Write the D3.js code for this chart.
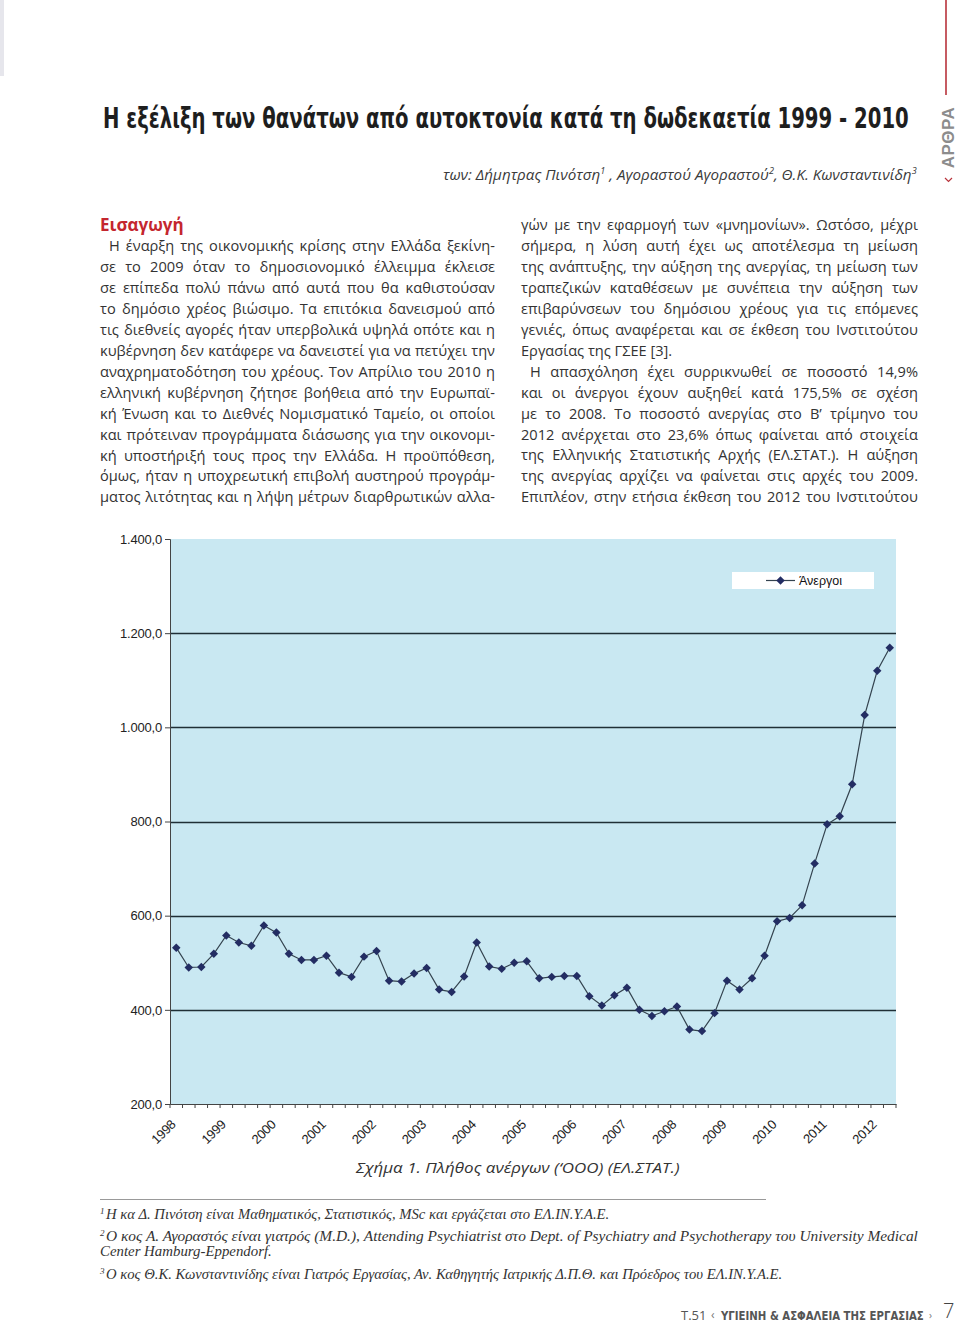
<!DOCTYPE html>
<html>
<head>
<meta charset="utf-8">
<script src="https://cdn.jsdelivr.net/npm/d3@7/dist/d3.min.js"></script>
<style>
  html, body { margin: 0; padding: 0; background: #fff; }
  svg { display: block; }
</style>
</head>
<body>
<svg id="page" width="960" height="1325"></svg>
<script>
// ---------------- DATA ----------------
const quarters = [
  "1998Q1","1998Q2","1998Q3","1998Q4","1999Q1","1999Q2","1999Q3","1999Q4",
  "2000Q1","2000Q2","2000Q3","2000Q4","2001Q1","2001Q2","2001Q3","2001Q4",
  "2002Q1","2002Q2","2002Q3","2002Q4","2003Q1","2003Q2","2003Q3","2003Q4",
  "2004Q1","2004Q2","2004Q3","2004Q4","2005Q1","2005Q2","2005Q3","2005Q4",
  "2006Q1","2006Q2","2006Q3","2006Q4","2007Q1","2007Q2","2007Q3","2007Q4",
  "2008Q1","2008Q2","2008Q3","2008Q4","2009Q1","2009Q2","2009Q3","2009Q4",
  "2010Q1","2010Q2","2010Q3","2010Q4","2011Q1","2011Q2","2011Q3","2011Q4",
  "2012Q1","2012Q2"
];
const unemployed = [
  532, 490, 491, 519, 558, 543, 536, 579, 564, 519,
  506, 506, 515, 479, 470, 513, 525, 462, 460, 477,
  489, 443, 438, 471, 543, 492, 487, 500, 503, 467,
  470, 472, 472, 429, 409, 431, 447, 400, 387, 397,
  407, 358, 355, 393, 462, 443, 467, 515, 588, 595,
  622, 711, 794, 811, 879, 1026, 1120, 1169
];
const yearLabels = ["1998","1999","2000","2001","2002","2003","2004","2005",
                    "2006","2007","2008","2009","2010","2011","2012"];
const yTicks = [200, 400, 600, 800, 1000, 1200, 1400];
const seriesName = "Άνεργοι";

const titleText = "Η εξέλιξη των θανάτων από αυτοκτονία κατά τη δωδεκαετία 1999 - 2010";
const leftLines = [
  "Η έναρξη της οικονομικής κρίσης στην Ελλάδα ξεκίνη-",
  "σε το 2009 όταν το δημοσιονομικό έλλειμμα έκλεισε",
  "σε επίπεδα πολύ πάνω από αυτά που θα καθιστούσαν",
  "το δημόσιο χρέος βιώσιμο. Τα επιτόκια δανεισμού από",
  "τις διεθνείς αγορές ήταν υπερβολικά υψηλά οπότε και η",
  "κυβέρνηση δεν κατάφερε να δανειστεί για να πετύχει την",
  "αναχρηματοδότηση του χρέους. Τον Απρίλιο του 2010 η",
  "ελληνική κυβέρνηση ζήτησε βοήθεια από την Ευρωπαϊ-",
  "κή Ένωση και το Διεθνές Νομισματικό Ταμείο, οι οποίοι",
  "και πρότειναν προγράμματα διάσωσης για την οικονομι-",
  "κή υποστήριξή τους προς την Ελλάδα. Η προϋπόθεση,",
  "όμως, ήταν η υποχρεωτική επιβολή αυστηρού προγράμ-",
  "ματος λιτότητας και η λήψη μέτρων διαρθρωτικών αλλα-"
];
const rightLines = [
  "γών με την εφαρμογή των «μνημονίων». Ωστόσο, μέχρι",
  "σήμερα, η λύση αυτή έχει ως αποτέλεσμα τη μείωση",
  "της ανάπτυξης, την αύξηση της ανεργίας, τη μείωση των",
  "τραπεζικών καταθέσεων με συνέπεια την αύξηση των",
  "επιβαρύνσεων του δημόσιου χρέους για τις επόμενες",
  "γενιές, όπως αναφέρεται και σε έκθεση του Ινστιτούτου",
  "Εργασίας της ΓΣΕΕ [3].",
  "Η απασχόληση έχει συρρικνωθεί σε ποσοστό 14,9%",
  "και οι άνεργοι έχουν αυξηθεί κατά 175,5% σε σχέση",
  "με το 2008. Το ποσοστό ανεργίας στο Β’ τρίμηνο του",
  "2012 ανέρχεται στο 23,6% όπως φαίνεται από στοιχεία",
  "της Ελληνικής Στατιστικής Αρχής (ΕΛ.ΣΤΑΤ.). Η αύξηση",
  "της ανεργίας αρχίζει να φαίνεται στις αρχές του 2009.",
  "Επιπλέον, στην ετήσια έκθεση του 2012 του Ινστιτούτου"
];

// ---------------- PAGE ----------------
const svg = d3.select("#page");
const sansBody = "'Open Sans', 'Noto Sans', 'DejaVu Sans', sans-serif";
const serif = "'Liberation Serif', 'DejaVu Serif', serif";
const narrow = "'Liberation Sans Narrow', 'DejaVu Sans Condensed', 'Roboto', sans-serif";
const arial = "'Liberation Sans', Arial, sans-serif";

// horizontally scale a text (placed at x0,y0) so that it is exactly w wide
function scaleTo(sel, x0, y0, w) {
  sel.attr("x", 0).attr("y", 0);
  const nat = sel.node().getComputedTextLength();
  const s = nat > 0 ? w / nat : 1;
  sel.attr("transform", `translate(${x0},${y0}) scale(${s.toFixed(4)},1)`);
  return sel;
}
function justify(sel, w) {
  const nat = sel.node().getComputedTextLength();
  const spaces = (sel.text().match(/ /g) || []).length;
  if (nat > w) {
    const x0 = +sel.attr("x"), y0 = +sel.attr("y");
    scaleTo(sel, x0, y0, w);
    return;
  }
  if (spaces > 0) sel.attr("word-spacing", ((w - nat) / spaces).toFixed(2));
}

// top-left faint strip
svg.append("rect").attr("x", 0).attr("y", 0).attr("width", 4).attr("height", 76).attr("fill", "#e6e6ec");

// right side tab
svg.append("line").attr("x1", 946).attr("x2", 946).attr("y1", 0).attr("y2", 95)
  .attr("stroke", "#b8333b").attr("stroke-width", 1.6);
svg.append("text").attr("transform", "translate(954,137.5) rotate(-90)")
  .attr("text-anchor", "middle").attr("font-family", arial).attr("font-weight", "bold")
  .attr("font-size", 17).attr("fill", "#8c8c8c").attr("letter-spacing", 0.5).text("ΑΡΘΡΑ");
svg.append("polyline").attr("points", "945,178 948.5,181.5 952,178")
  .attr("fill", "none").attr("stroke", "#b8333b").attr("stroke-width", 1.2);

// title
scaleTo(svg.append("text")
  .attr("font-family", narrow).attr("font-weight", "bold").attr("font-size", 28)
  .attr("fill", "#1e1e1e").text(titleText), 103, 128, 806);

// authors
const au = svg.append("text")
  .attr("font-family", sansBody).attr("font-style", "italic").attr("font-size", 15).attr("fill", "#3a3a3a");
au.append("tspan").text("των: Δήμητρας Πινότση");
au.append("tspan").attr("font-size", 9).attr("dy", -6).text("1");
au.append("tspan").attr("dy", 6).text(" , Αγοραστού Αγοραστού");
au.append("tspan").attr("font-size", 9).attr("dy", -6).text("2");
au.append("tspan").attr("dy", 6).text(", Θ.Κ. Κωνσταντινίδη");
au.append("tspan").attr("font-size", 9).attr("dy", -6).text("3");
scaleTo(au, 443, 180, 474);

// section heading
svg.append("text").attr("x", 100).attr("y", 231).attr("font-family", sansBody)
  .attr("font-weight", "bold").attr("font-size", 17).attr("fill", "#c4262e").text("Εισαγωγή");

// body columns
const lineH = 20.95;
leftLines.forEach((t, i) => {
  const x0 = i === 0 ? 109 : 100;
  const s = svg.append("text").attr("x", x0).attr("y", 251 + i * lineH)
    .attr("font-family", sansBody).attr("font-size", 14.6).attr("fill", "#333").text(t);
  justify(s, 495 - x0);
});
rightLines.forEach((t, i) => {
  const x0 = i === 7 ? 530 : 521;
  const s = svg.append("text").attr("x", x0).attr("y", 230 + i * lineH)
    .attr("font-family", sansBody).attr("font-size", 14.6).attr("fill", "#333").text(t);
  if (i !== 6) justify(s, 918 - x0);
});

// ---------------- CHART ----------------
const plot = { left: 170, right: 896, top: 539, bottom: 1104 };
const x = d3.scaleBand().domain(quarters).range([plot.left, plot.right]).paddingInner(0).paddingOuter(0);
const y = d3.scaleLinear().domain([200, 1400]).range([plot.bottom, plot.top]);
const cx = q => x(q) + x.bandwidth() / 2;
const grLocale = d3.formatLocale({ decimal: ",", thousands: ".", grouping: [3], currency: ["", "€"] });
const fmt = grLocale.format(",.1f");

const g = svg.append("g");
g.append("rect").attr("x", plot.left).attr("y", plot.top)
  .attr("width", plot.right - plot.left).attr("height", plot.bottom - plot.top).attr("fill", "#c9e8f2");

// gridlines
g.append("g").selectAll("line").data(yTicks.filter(v => v > 200 && v < 1400)).join("line")
  .attr("x1", plot.left).attr("x2", plot.right)
  .attr("y1", d => Math.round(y(d)) + 0.5).attr("y2", d => Math.round(y(d)) + 0.5)
  .attr("stroke", "#1f2f36").attr("stroke-width", 1.3);

// y axis
const yAxis = g.append("g").attr("transform", `translate(${plot.left},0)`)
  .call(d3.axisLeft(y).tickValues(yTicks).tickFormat(fmt).tickSize(5).tickPadding(3));
yAxis.select(".domain").attr("stroke", "#444");
yAxis.selectAll(".tick line").attr("stroke", "#444");
yAxis.selectAll("text").attr("font-family", arial).attr("font-size", 13).attr("fill", "#222")
  .attr("letter-spacing", -0.2);

// x axis
const xAxis = g.append("g").attr("transform", `translate(0,${plot.bottom})`)
  .call(d3.axisBottom(x).tickValues([]).tickSizeOuter(0));
xAxis.select(".domain").attr("stroke", "#444");
xAxis.append("g").selectAll("line").data(quarters.concat(["end"])).join("line")
  .attr("x1", (d, i) => plot.left + i * x.bandwidth()).attr("x2", (d, i) => plot.left + i * x.bandwidth())
  .attr("y1", 0).attr("y2", 4).attr("stroke", "#444");
xAxis.append("g").selectAll("text").data(yearLabels).join("text")
  .attr("transform", d => `translate(${cx(d + "Q1") - 3},${18}) rotate(-45)`)
  .attr("text-anchor", "end").attr("font-family", arial).attr("font-size", 13).attr("fill", "#222")
  .attr("letter-spacing", -0.3).attr("dy", "0.35em").text(d => d);

// line + markers
const data = quarters.map((q, i) => ({ q, v: unemployed[i] }));
g.append("path").datum(data)
  .attr("d", d3.line().x(d => cx(d.q)).y(d => y(d.v)))
  .attr("fill", "none").attr("stroke", "#34434f").attr("stroke-width", 1.2);
const diamond = d3.symbol().type(d3.symbolSquare).size(36);
g.append("g").selectAll("path").data(data).join("path")
  .attr("transform", d => `translate(${cx(d.q)},${y(d.v)}) rotate(45)`)
  .attr("d", diamond).attr("fill", "#232d63");

// legend
const lg = g.append("g");
lg.append("rect").attr("x", 732).attr("y", 572).attr("width", 142).attr("height", 17).attr("fill", "#fff");
lg.append("line").attr("x1", 766).attr("x2", 795).attr("y1", 580.5).attr("y2", 580.5)
  .attr("stroke", "#34434f").attr("stroke-width", 1.2);
lg.append("path").attr("transform", "translate(780.5,580.5) rotate(45)").attr("d", diamond).attr("fill", "#232d63");
lg.append("text").attr("x", 799).attr("y", 585).attr("font-family", arial).attr("font-size", 12.5)
  .attr("fill", "#111").text(seriesName);

// caption
scaleTo(svg.append("text").attr("font-family", sansBody)
  .attr("font-style", "italic").attr("font-size", 15).attr("fill", "#333")
  .text("Σχήμα 1. Πλήθος ανέργων (‘ΟΟΟ) (ΕΛ.ΣΤΑΤ.)"), 356, 1173, 324);

// footnotes
svg.append("line").attr("x1", 100).attr("x2", 766).attr("y1", 1199.5).attr("y2", 1199.5)
  .attr("stroke", "#999").attr("stroke-width", 1);
const fns = [
  { n: "1", t: "Η κα Δ. Πινότση είναι Μαθηματικός, Στατιστικός, MSc και εργάζεται στο ΕΛ.ΙΝ.Υ.Α.Ε.", y: 1219, w: 510 },
  { n: "2", t: "Ο κος Α. Αγοραστός είναι γιατρός (M.D.), Attending Psychiatrist στο Dept. of Psychiatry and Psychotherapy του University Medical", y: 1241, w: 818 },
  { n: "", t: "Center Hamburg-Eppendorf.", y: 1256, w: 172 },
  { n: "3", t: "Ο κος Θ.Κ. Κωνσταντινίδης είναι Γιατρός Εργασίας, Αν. Καθηγητής Ιατρικής Δ.Π.Θ. και Πρόεδρος του ΕΛ.ΙΝ.Υ.Α.Ε.", y: 1279, w: 683 }
];
fns.forEach(f => {
  if (f.n) {
    svg.append("text").attr("x", 100).attr("y", f.y - 5).attr("font-family", serif)
      .attr("font-style", "italic").attr("font-size", 9).attr("fill", "#333").text(f.n);
  }
  const x0 = f.n ? 106 : 100;
  scaleTo(svg.append("text").attr("font-family", serif)
    .attr("font-style", "italic").attr("font-size", 14).attr("fill", "#333").text(f.t),
    x0, f.y, f.w - (x0 - 100));
});

// footer
svg.append("text").attr("x", 681).attr("y", 1320).attr("font-family", sansBody)
  .attr("font-size", 13).attr("fill", "#555").text("Τ.51");
svg.append("text").attr("x", 711).attr("y", 1319).attr("font-family", sansBody)
  .attr("font-size", 12).attr("fill", "#777").text("‹");
scaleTo(svg.append("text").attr("font-family", narrow)
  .attr("font-weight", "bold").attr("font-size", 13).attr("fill", "#555")
  .text("ΥΓΙΕΙΝΗ & ΑΣΦΑΛΕΙΑ ΤΗΣ ΕΡΓΑΣΙΑΣ"), 721, 1320, 203);
svg.append("text").attr("x", 929).attr("y", 1319).attr("font-family", sansBody)
  .attr("font-size", 10).attr("fill", "#777").text("›");
svg.append("text").attr("x", 943).attr("y", 1318).attr("font-family", sansBody)
  .attr("font-weight", 300).attr("font-size", 20).attr("fill", "#444").text("7");
</script>
</body>
</html>
